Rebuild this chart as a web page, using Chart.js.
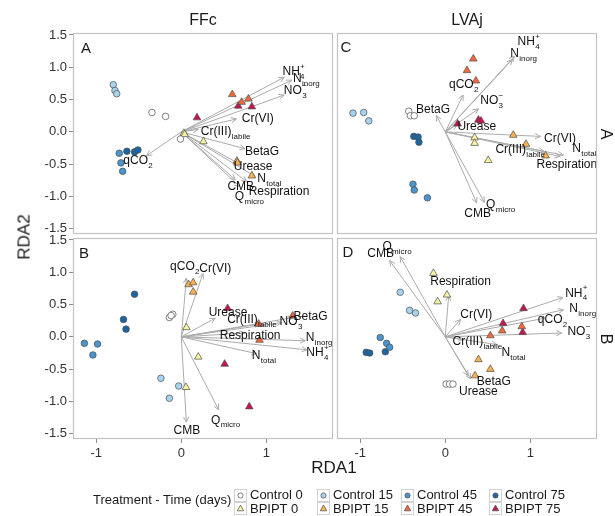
<!DOCTYPE html>
<html><head><meta charset="utf-8">
<script src="https://cdn.jsdelivr.net/npm/chart.js@4.4.1/dist/chart.umd.min.js"></script>
<style>
html,body{margin:0;padding:0;background:#fff;}
#wrap{position:relative;width:615px;height:516px;overflow:hidden;background:#fff;font-family:"Liberation Sans",Arial,Helvetica,sans-serif;}
canvas{position:absolute;left:0;top:0;}
.t{position:absolute;white-space:nowrap;line-height:1;color:#1a1a1a;transform:translate(-50%,-50%);}
.lt{position:absolute;white-space:nowrap;line-height:1;color:#1a1a1a;font-size:13px;transform:translateY(-50%);}
.key{position:absolute;width:13px;height:13px;}
</style></head><body>
<div id="wrap">
<canvas id="cA" width="615" height="516"></canvas>
<canvas id="cB" width="615" height="516"></canvas>
<canvas id="cC" width="615" height="516"></canvas>
<canvas id="cD" width="615" height="516"></canvas>
</div>
<script>
// ---------------- DATA ----------------
const groups = ['Control 0','Control 15','Control 45','Control 75','BPIPT 0','BPIPT 15','BPIPT 45','BPIPT 75'];
const groupFill = ['#ffffff','#a6d3ee','#4b94cc','#1c65a0','#f7f3a1','#f9b34f','#f26a3c','#c8144e'];
const groupShape = ['circle','circle','circle','circle','triangle','triangle','triangle','triangle'];
const xTicks = [-1, 0, 1];
const yTicks = [-1.5, -1, -0.5, 0, 0.5, 1, 1.5];
const facetCols = ['FFc', 'LVAj'];
const facetRows = ['A', 'B'];
const panelLetters = ['A', 'B', 'C', 'D'];
const legendTitle = 'Treatment - Time (days)';
const xTitle = 'RDA1', yTitle = 'RDA2';
// biplot variables (order for arrow arrays)
const varLabels = [
  {b:'NH', sub:'4', sup:'+'}, {b:'N', sub:'inorg'}, {b:'NO', sub:'3', sup:'\u2212'},
  {b:'Cr(VI)'}, {b:'Cr(III)', sub:'labile'}, {b:'qCO', sub:'2'}, {b:'BetaG'},
  {b:'Urease'}, {b:'N', sub:'total'}, {b:'CMB'}, {b:'Respiration'}, {b:'Q', sub:'micro'}
];

// Panel A (FFc, row A) site scores, 3 replicates per group in group order
const scoreA_x = [-0.345,-0.185,-0.01, -0.80,-0.78,-0.76, -0.73,-0.71,-0.69, -0.64,-0.55,-0.51, 0.03,0.26,0.04, 0.655,0.83,0.66, 0.60,0.71,0.79, 0.185,0.67,0.83];
const scoreA_y = [0.30,0.24,-0.11, 0.73,0.64,0.59, -0.33,-0.48,-0.61, -0.30,-0.31,-0.28, -0.02,-0.15,-0.04, -0.45,-0.68,-0.48, 0.58,0.46,0.51, 0.22,0.40,0.39];
const arrowA_x = [1.21,1.30,1.21,0.65,0.20,-0.41,0.75,0.675,0.87,0.635,0.77,0.69];
const arrowA_y = [0.845,0.80,0.57,0.20,0.04,-0.37,-0.26,-0.49,-0.69,-0.74,-0.77,-0.85];
const labelA_x = [1.32,1.47,1.34,0.90,0.52,-0.51,0.95,0.845,1.035,0.70,1.15,0.80];
const labelA_y = [0.93,0.82,0.63,0.20,0.0,-0.44,-0.31,-0.545,-0.73,-0.845,-0.93,-1.0];

// Panel B (FFc, row B)
const scoreB_x = [-0.14,-0.10,-0.12, -0.24,-0.03,-0.14, -1.14,-0.985,-1.04, -0.55,-0.68,-0.65, 0.06,0.20,0.055, 0.086,0.14,0.14, 0.91,0.92,1.31, 0.545,0.51,0.80];
const scoreB_y = [0.30,0.35,0.33, -0.64,-0.76,-0.95, -0.10,-0.11,-0.28, 0.66,0.27,0.12, 0.145,-0.31,-0.78, 0.81,0.84,0.695, 0.20,-0.05,0.325, 0.44,-0.42,-1.08];
const arrowB_x = [1.48,1.46,1.18,0.255,0.93,0.06,1.32,0.40,0.89,0.06,0.75,0.44];
const arrowB_y = [-0.20,-0.06,0.22,0.98,0.20,0.91,0.30,0.29,-0.26,-1.32,0.06,-1.13];
const labelB_x = [1.60,1.62,1.29,0.40,0.83,0.04,1.52,0.55,0.97,0.065,0.81,0.52];
const labelB_y = [-0.25,-0.02,0.24,1.06,0.26,1.08,0.31,0.37,-0.29,-1.45,0.02,-1.29];

// Panel C (LVAj, row A)
const scoreC_x = [-0.43,-0.41,-0.365, -1.086,-0.96,-0.90, -0.38,-0.365,-0.21, -0.37,-0.32,-0.31, 0.345,0.345,0.505, 0.80,0.95,1.18, 0.33,0.255,0.36, 0.145,0.39,0.42];
const scoreC_y = [0.32,0.25,0.25, 0.29,0.30,0.17, -0.81,-0.90,-1.02, -0.07,-0.08,-0.16, -0.09,-0.175,-0.44, -0.05,-0.19,-0.37, 1.13,0.95,0.79, 0.125,0.185,0.17];
const arrowC_x = [0.815,0.79,0.39,1.12,1.16,0.21,-0.105,0.14,1.39,0.37,1.35,0.46];
const arrowC_y = [1.17,1.12,0.355,-0.07,-0.30,0.57,0.25,0.11,-0.36,-1.10,-0.38,-1.09];
const labelC_x = [0.98,0.92,0.545,1.35,0.88,0.215,-0.145,0.37,1.635,0.38,1.43,0.65];
const labelC_y = [1.40,1.21,0.48,-0.11,-0.28,0.73,0.34,0.08,-0.26,-1.26,-0.50,-1.13];

// Panel D (LVAj, row B)
const scoreD_x = [0.01,0.05,0.09, -0.53,-0.42,-0.35, -0.765,-0.69,-0.655, -0.93,-0.89,-0.705, -0.14,0.02,-0.09, 0.39,0.53,0.35, 0.53,0.67,0.90, 0.92,0.68,0.91];
const scoreD_y = [-0.73,-0.73,-0.73, 0.69,0.41,0.37, -0.01,-0.10,-0.16, -0.24,-0.25,-0.23, 0.985,0.65,0.545, -0.35,-0.50,-0.60, 0.02,0.095,0.16, 0.44,0.21,0.07];
const arrowD_x = [1.385,1.39,1.37,0.18,0.215,1.18,0.30,0.27,0.61,-0.655,0.04,-0.53];
const arrowD_y = [0.61,0.42,0.06,0.27,-0.04,0.29,-0.65,-0.60,-0.12,1.18,0.64,1.24];
const labelD_x = [1.54,1.615,1.57,0.365,0.375,1.26,0.57,0.39,0.80,-0.76,0.18,-0.57];
const labelD_y = [0.675,0.44,0.08,0.34,-0.07,0.27,-0.69,-0.85,-0.24,1.28,0.855,1.40];

const xRange = [-1.274, 1.785];
const yRange = [-1.58, 1.53];

// ---------------- LAYOUT ----------------
const FONT = '"Liberation Sans", Arial, Helvetica, sans-serif';
const W = 615, H = 516, YAXW = 43, XAXH = 22;
const panels = [
  {id:'cA', rect:{l:73,t:33,r:333,b:234}, showX:false, showY:true,  sx:scoreA_x, sy:scoreA_y, ax:arrowA_x, ay:arrowA_y, lx:labelA_x, ly:labelA_y, letter:panelLetters[0], lp:[86,47]},
  {id:'cB', rect:{l:73,t:238,r:333,b:439}, showX:true, showY:true,  sx:scoreB_x, sy:scoreB_y, ax:arrowB_x, ay:arrowB_y, lx:labelB_x, ly:labelB_y, letter:panelLetters[1], lp:[84,252]},
  {id:'cC', rect:{l:337,t:33,r:597,b:234}, showX:false, showY:false, sx:scoreC_x, sy:scoreC_y, ax:arrowC_x, ay:arrowC_y, lx:labelC_x, ly:labelC_y, letter:panelLetters[2], lp:[346,46]},
  {id:'cD', rect:{l:337,t:238,r:597,b:439}, showX:true, showY:false, sx:scoreD_x, sy:scoreD_y, ax:arrowD_x, ay:arrowD_y, lx:labelD_x, ly:labelD_y, letter:panelLetters[3], lp:[348,251]}
];
const pointGroup = groups.flatMap((g,i)=>[i,i,i]);

function drawLabel(ctx, lab, x, y) {
  ctx.save();
  ctx.fillStyle = '#111';
  ctx.textBaseline = 'middle';
  ctx.textAlign = 'left';
  ctx.font = '12px ' + FONT;
  const wMain = ctx.measureText(lab.b).width;
  ctx.font = '8px ' + FONT;
  const wSub = lab.sub ? ctx.measureText(lab.sub).width : 0;
  const wSup = lab.sup ? ctx.measureText(lab.sup).width : 0;
  const total = wMain + Math.max(wSub, wSup);
  const x0 = x - total / 2;
  ctx.font = '12px ' + FONT;
  ctx.fillText(lab.b, x0, y);
  ctx.font = '8px ' + FONT;
  if (lab.sub) ctx.fillText(lab.sub, x0 + wMain + 0.3, y + 5);
  if (lab.sup) ctx.fillText(lab.sup, x0 + wMain + 0.3, y - 5);
  ctx.restore();
}

const biplotPlugin = {
  id: 'biplot',
  beforeDatasetsDraw(chart) {
    const p = chart.config.options.plugins.biplot;
    const xs = chart.scales.x, ys = chart.scales.y, ctx = chart.ctx;
    const ox = xs.getPixelForValue(0), oy = ys.getPixelForValue(0);
    ctx.save();
    ctx.strokeStyle = '#ababab';
    ctx.lineWidth = 1;
    p.ax.forEach((vx, i) => {
      const tx = xs.getPixelForValue(vx), ty = ys.getPixelForValue(p.ay[i]);
      ctx.beginPath(); ctx.moveTo(ox, oy); ctx.lineTo(tx, ty); ctx.stroke();
      const ang = Math.atan2(ty - oy, tx - ox), L = 6, a = 0.45;
      ctx.beginPath();
      ctx.moveTo(tx - L * Math.cos(ang - a), ty - L * Math.sin(ang - a));
      ctx.lineTo(tx, ty);
      ctx.lineTo(tx - L * Math.cos(ang + a), ty - L * Math.sin(ang + a));
      ctx.stroke();
    });
    ctx.restore();
  },
  afterDatasetsDraw(chart) {
    const p = chart.config.options.plugins.biplot;
    const xs = chart.scales.x, ys = chart.scales.y, ctx = chart.ctx;
    p.lx.forEach((vx, i) => {
      drawLabel(ctx, varLabels[i], xs.getPixelForValue(vx), ys.getPixelForValue(p.ly[i]));
    });
  },
  afterDraw(chart) {
    const ca = chart.chartArea, ctx = chart.ctx;
    ctx.save();
    ctx.strokeStyle = '#c4c4c4';
    ctx.lineWidth = 1.2;
    ctx.strokeRect(ca.left + 0.5, ca.top + 0.5, ca.right - ca.left - 1, ca.bottom - ca.top - 1);
    ctx.restore();
  }
};

panels.forEach(pn => {
  const datasets = groups.map((g, gi) => ({
    label: g,
    data: pn.sx.map((v, i) => ({x: v, y: pn.sy[i], g: pointGroup[i]})).filter(d => d.g === gi),
    pointStyle: groupShape[gi],
    pointRadius: groupShape[gi] === 'triangle' ? 4.4 : 3.3,
    backgroundColor: groupFill[gi],
    borderColor: '#4d4d4d',
    borderWidth: 0.7,
    showLine: false
  }));
  const axisCommon = {
    type: 'linear',
    grid: {display: true, drawOnChartArea: false, drawTicks: true, tickLength: 4, color: '#8c8c8c', lineWidth: 1},
    border: {display: false}
  };
  new Chart(document.getElementById(pn.id), {
    type: 'scatter',
    data: {datasets},
    plugins: [biplotPlugin],
    options: {
      responsive: false, animation: false, devicePixelRatio: 1, events: [],
      layout: {padding: {
        left: pn.rect.l - (pn.showY ? YAXW : 0),
        right: W - pn.rect.r,
        top: pn.rect.t,
        bottom: H - pn.rect.b - (pn.showX ? XAXH : 0)
      }},
      plugins: {legend: {display: false}, tooltip: {enabled: false},
        biplot: {ax: pn.ax, ay: pn.ay, lx: pn.lx, ly: pn.ly}},
      scales: {
        x: Object.assign({}, axisCommon, {
          min: xRange[0], max: xRange[1], display: pn.showX,
          afterBuildTicks: s => { s.ticks = xTicks.map(v => ({value: v})); },
          afterFit: s => { s.height = pn.showX ? XAXH : 0; s.paddingLeft = 0; s.paddingRight = 0; },
          ticks: {font: {size: 13, family: FONT}, color: '#333333', padding: 3, callback: v => String(v)}
        }),
        y: Object.assign({}, axisCommon, {
          min: yRange[0], max: yRange[1], display: pn.showY,
          afterBuildTicks: s => { s.ticks = yTicks.map(v => ({value: v})); },
          afterFit: s => { s.width = pn.showY ? YAXW : 0; s.paddingTop = 0; s.paddingBottom = 0; },
          ticks: {font: {size: 13, family: FONT}, color: '#333333', padding: 2, callback: v => Number(v).toFixed(1)}
        })
      }
    }
  });
});

// ---------------- TEXT (HTML) ----------------
const wrap = document.getElementById('wrap');
function addText(txt, x, y, size, extra) {
  const d = document.createElement('div');
  d.className = 't';
  d.textContent = txt;
  d.style.left = x + 'px'; d.style.top = y + 'px';
  d.style.fontSize = size + 'px';
  if (extra) d.style.transform = 'translate(-50%,-50%) ' + extra;
  wrap.appendChild(d);
  return d;
}
addText(facetCols[0], (panels[0].rect.l + panels[0].rect.r) / 2, 20, 16);
addText(facetCols[1], (panels[2].rect.l + panels[2].rect.r) / 2, 20, 16);
addText(facetRows[0], 606, (panels[0].rect.t + panels[0].rect.b) / 2, 16, 'rotate(90deg)');
addText(facetRows[1], 606, (panels[1].rect.t + panels[1].rect.b) / 2, 16, 'rotate(90deg)');
addText(yTitle, 24, 237, 17, 'rotate(-90deg)');
addText(xTitle, 334, 467, 17);
panels.forEach(pn => addText(pn.letter, pn.lp[0], pn.lp[1], 15));

// legend
const lt = document.createElement('div');
lt.className = 'lt'; lt.textContent = legendTitle;
lt.style.left = '93px'; lt.style.top = '499px';
wrap.appendChild(lt);
const keyX = [234, 317, 401, 489];
const textX = [250, 333, 417, 505];
const rowY = [494, 507.7];
groups.forEach((g, gi) => {
  const col = gi % 4, row = Math.floor(gi / 4);
  const k = document.createElement('div');
  k.className = 'key';
  k.style.left = keyX[col] + 'px';
  k.style.top = (rowY[row] - 6.5) + 'px';
  const sym = groupShape[gi] === 'circle'
    ? `<circle cx="6.5" cy="6.5" r="2.6" fill="${groupFill[gi]}" stroke="#4d4d4d" stroke-width="0.7"/>`
    : `<polygon points="6.5,3.0 9.7,8.8 3.3,8.8" fill="${groupFill[gi]}" stroke="#4d4d4d" stroke-width="0.7"/>`;
  k.innerHTML = `<svg width="13" height="13" xmlns="http://www.w3.org/2000/svg"><rect x="0.5" y="0.5" width="12" height="12" fill="#ffffff" stroke="#d2d2d2" stroke-width="1"/>${sym}</svg>`;
  wrap.appendChild(k);
  const t = document.createElement('div');
  t.className = 'lt'; t.textContent = g;
  t.style.left = textX[col] + 'px'; t.style.top = rowY[row] + 'px';
  wrap.appendChild(t);
});
</script>
</body></html>
